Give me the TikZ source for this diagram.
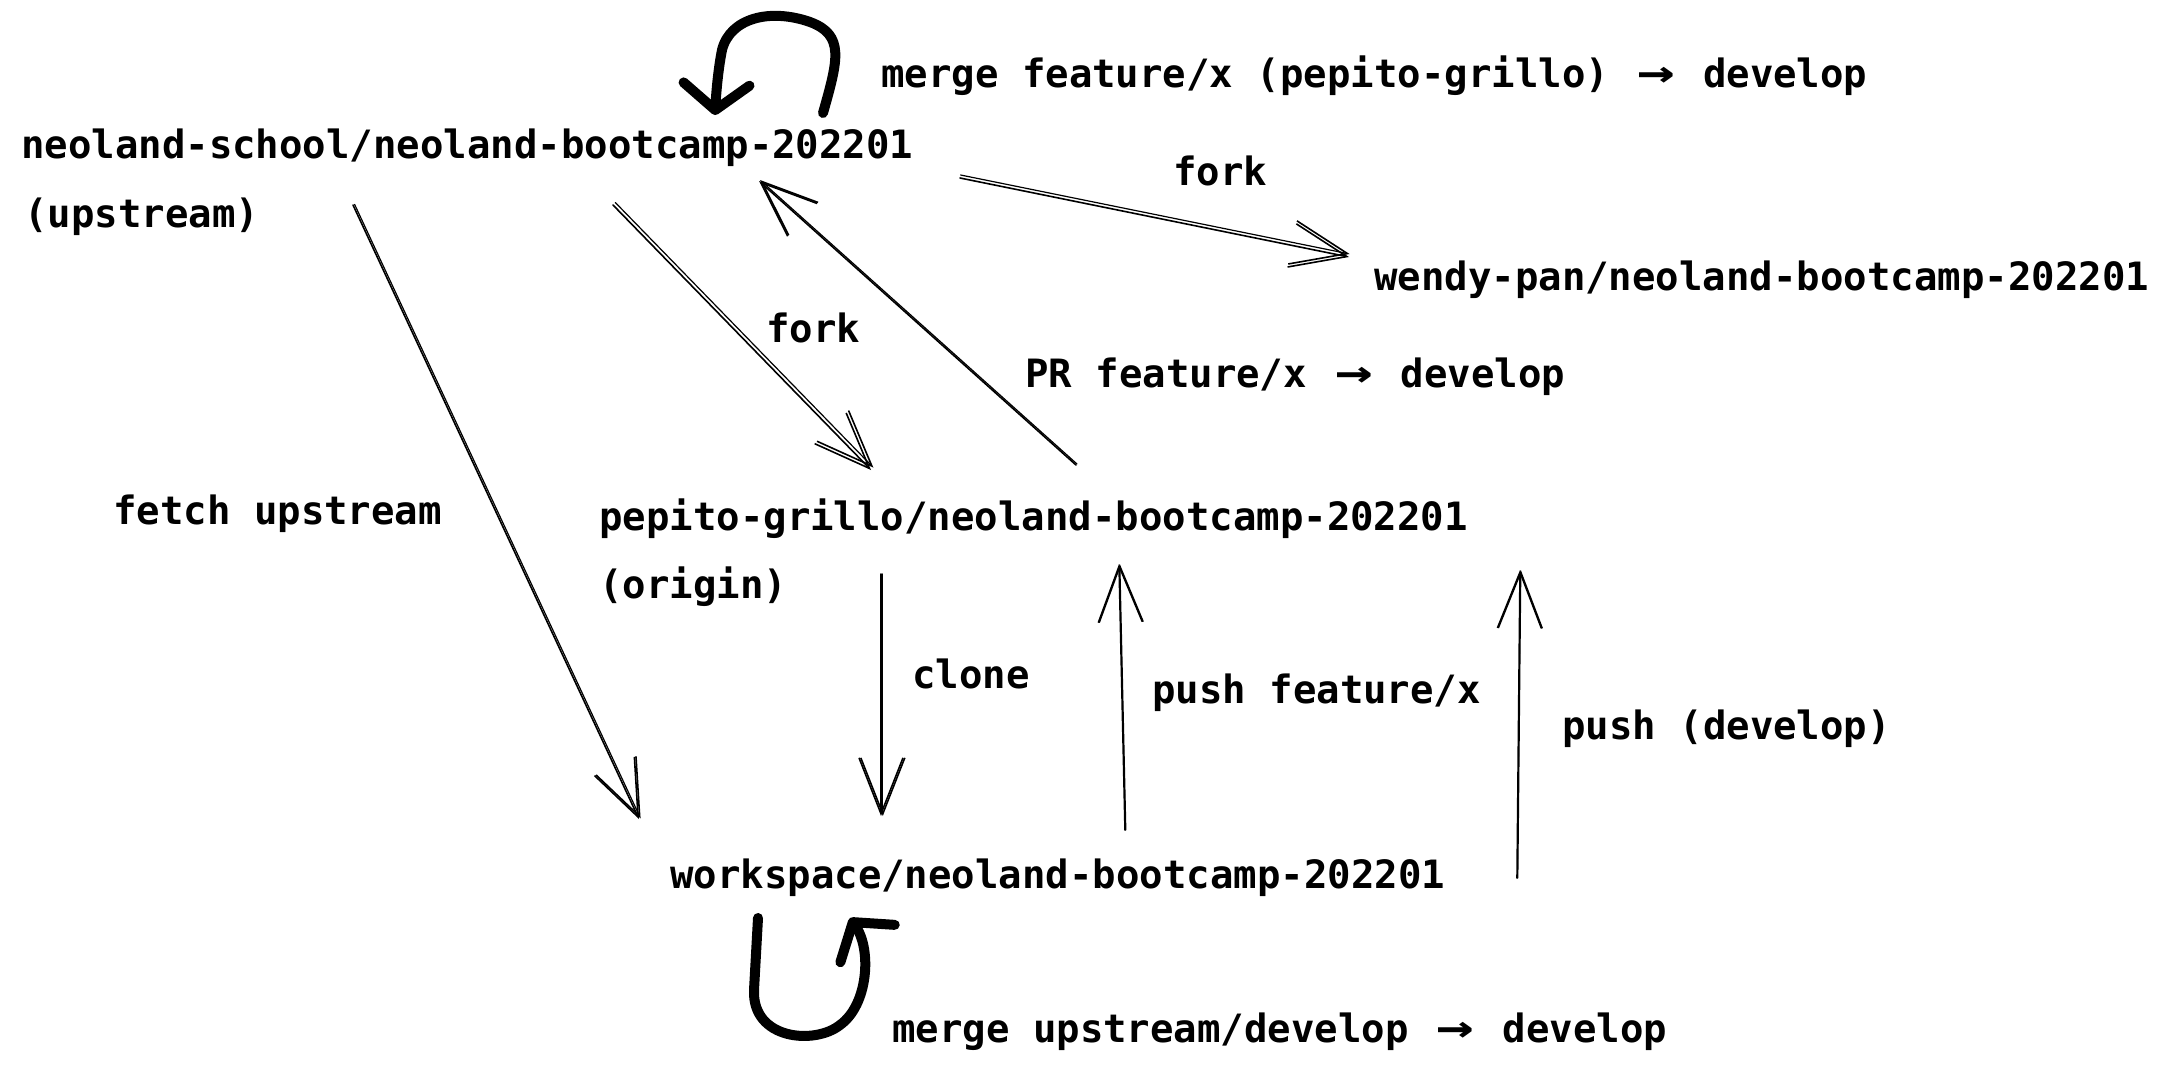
\documentclass[tikz,border=0pt]{standalone}
\usepackage{fontspec}
\setmonofont{DejaVu Sans Mono}
\usetikzlibrary{arrows.meta,calc}
\newcommand\ligarrow{\makebox[47pt][c]{\scalebox{1.6}[1.15]{→}}}
\begin{document}
\begin{tikzpicture}[x=1pt,y=-1pt,
  lbl/.style={anchor=base west, inner sep=0pt, font=\ttfamily\bfseries\fontsize{39}{47}\selectfont},
  conn/.style={line width=1.6pt, line cap=round, -{Straight Barb[length=56pt,width=44pt,line width=1.6pt]}},
  sketch/.style={transform canvas={shift={#1}}, line width=1.2pt},
  selfloop/.style={line width=10pt, line cap=round, line join=round, -{Straight Barb[length=26pt,width=66pt,round]}}]
\useasboundingbox[fill=white] (0,0) rectangle (2169,1071);

% repository nodes
\node[lbl] (school) at (21,158) {neoland-school/neoland-bootcamp-202201};
\node[lbl] (schoolrole) at (24,227) {(upstream)};
\node[lbl] (wendy) at (1374,290) {wendy-pan/neoland-bootcamp-202201};
\node[lbl] (pepito) at (599,530) {pepito-grillo/neoland-bootcamp-202201};
\node[lbl] (pepitorole) at (599,598) {(origin)};
\node[lbl] (work) at (670,888) {workspace/neoland-bootcamp-202201};

% labels
\node[lbl] (lmergetop) at (881,87) {merge feature/x (pepito-grillo) \ligarrow{} develop};
\node[lbl] (lforktop) at (1173,185) {fork};
\node[lbl] (lforkmid) at (766,342) {fork};
\node[lbl] (lpr) at (1025,387) {PR feature/x \ligarrow{} develop};
\node[lbl] (lfetch) at (113,524) {fetch upstream};
\node[lbl] (lclone) at (912,688) {clone};
\node[lbl] (lpushfx) at (1152,703) {push feature/x};
\node[lbl] (lpushdev) at (1562,739) {push (develop)};
\node[lbl] (lmergebot) at (892,1042) {merge upstream/develop \ligarrow{} develop};

% connector end points attached to the nodes
\coordinate (school-fetch) at (353,205);
\coordinate (work-fetch) at (639,819);
\coordinate (school-fork) at (613,205);
\coordinate (pepito-fork) at (871,470);
\coordinate (pepito-pr) at (1076,465);
\coordinate (school-pr) at (759,181);
\coordinate (school-forktop) at (960,178);
\coordinate (wendy-fork) at (1349,257);
\coordinate (pepito-clone) at (881,574);
\coordinate (work-clone) at (881,816);
\coordinate (work-pushfx) at (1125,830);
\coordinate (pepito-pushfx) at (1119,564);
\coordinate (work-pushdev) at (1517,878);
\coordinate (pepito-pushdev) at (1520,570);
\coordinate (school-loopa) at (823,113);
\coordinate (school-loopb) at (715,115);
\coordinate (work-loopa) at (758,918);
\coordinate (work-loopb) at (850,918);

% connectors
\draw[conn] (school-fetch) -- (work-fetch);
\draw[conn,sketch={(1.6pt,0.6pt)}] (school-fetch) -- (work-fetch);
\draw[conn] (school-fork) -- (pepito-fork);
\draw[conn,sketch={(2.4pt,2.4pt)}] (school-fork) -- (pepito-fork);
\draw[conn] (pepito-pr) -- (school-pr);
\draw[conn,sketch={(1pt,1pt)}] (pepito-pr) -- (school-pr);
\draw[conn] (school-forktop) -- (wendy-fork);
\draw[conn,sketch={(0.6pt,3pt)}] (school-forktop) -- (wendy-fork);
\draw[conn] (pepito-clone) -- (work-clone);
\draw[conn,sketch={(1.8pt,0pt)}] (pepito-clone) -- (work-clone);
\draw[conn] (work-pushfx) -- (pepito-pushfx);
\draw[conn,sketch={(0.8pt,0pt)}] (work-pushfx) -- (pepito-pushfx);
\draw[conn] (work-pushdev) -- (pepito-pushdev);
\draw[conn,sketch={(0.8pt,0pt)}] (work-pushdev) -- (pepito-pushdev);

% self loops
\draw[selfloop] (school-loopa) .. controls (838,60) and (845,35) .. (810,22)
  .. controls (770,8) and (730,18) .. (722,50)
  .. controls (718,70) and (716,95) .. (school-loopb);
\draw[selfloop] (work-loopa) -- (754,990)
  .. controls (752,1040) and (815,1045) .. (840,1025)
  .. controls (868,1005) and (872,950) .. (work-loopb);
\end{tikzpicture}
\end{document}
